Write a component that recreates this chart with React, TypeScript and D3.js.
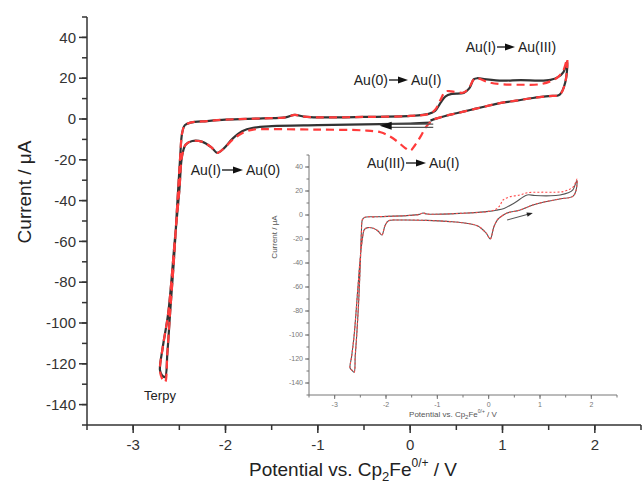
import * as React from 'react';
import * as d3 from 'd3';

// main panel: CV of Au-terpy complex, [potential V, current uA]
const mainBlack: [number, number][] = [
  [0.22, -1.8], [0.0, -2.2], [-0.5, -2.6], [-1.0, -3.0], [-1.5, -3.5], [-1.7, -4.3],
  [-1.82, -6.0], [-1.92, -9.5], [-2.02, -14.5], [-2.09, -16.6], [-2.15, -14.0],
  [-2.25, -11.2], [-2.36, -10.8], [-2.43, -12.5], [-2.47, -18], [-2.5, -35],
  [-2.55, -60], [-2.62, -95], [-2.68, -112], [-2.71, -123], [-2.69, -125.5],
  [-2.655, -126.5], [-2.63, -115], [-2.6, -95], [-2.56, -70], [-2.52, -40],
  [-2.49, -18], [-2.47, -7], [-2.44, -3], [-2.38, -1.8], [-2.2, -1.0], [-2.0, -0.3],
  [-1.6, 0.3], [-1.35, 0.8], [-1.25, 2.0], [-1.15, 1.2], [-1.0, 0.8], [-0.5, 1.0],
  [0.0, 1.5], [0.2, 2.5], [0.27, 4.0], [0.33, 8.0], [0.38, 11.0], [0.45, 12.3],
  [0.58, 12.8], [0.64, 15.0], [0.69, 19.5], [0.73, 20.0], [0.8, 19.6], [1.0, 18.8],
  [1.2, 19.1], [1.4, 18.8], [1.52, 19.2], [1.6, 20.5], [1.66, 23], [1.7, 28],
  [1.68, 18], [1.62, 12], [1.5, 11.2], [1.33, 10.3], [1.15, 9.0], [0.97, 7.8],
  [0.8, 6.0], [0.65, 4.4], [0.5, 2.8], [0.38, 1.5], [0.28, 0.2], [0.22, -0.8],
];

const mainRed: [number, number][] = [
  [0.22, -1.5], [0.17, -4], [0.12, -8], [0.05, -13], [0.0, -15.5], [-0.06, -14],
  [-0.14, -11], [-0.22, -8.5], [-0.32, -6.5], [-0.5, -5.6], [-1.0, -5.2], [-1.5, -5.0],
  [-1.7, -5.2], [-1.82, -7.0], [-1.92, -10], [-2.02, -14.5], [-2.09, -16.6],
  [-2.15, -14.0], [-2.25, -11.2], [-2.36, -10.8], [-2.43, -12.5], [-2.47, -18],
  [-2.5, -35], [-2.55, -60], [-2.62, -95], [-2.68, -112], [-2.71, -123],
  [-2.69, -127], [-2.655, -129], [-2.63, -115], [-2.6, -95], [-2.56, -70],
  [-2.52, -40], [-2.49, -18], [-2.47, -7], [-2.44, -3], [-2.38, -1.8], [-2.2, -1.0],
  [-2.0, -0.3], [-1.6, 0.3], [-1.35, 0.8], [-1.25, 2.0], [-1.15, 1.2], [-1.0, 0.8],
  [-0.5, 1.0], [0.0, 1.5], [0.2, 2.5], [0.27, 4.5], [0.33, 9.5], [0.38, 13.5],
  [0.45, 13.5], [0.58, 13.0], [0.64, 15.5], [0.69, 19.5], [0.73, 20.0], [0.85, 18.0],
  [1.0, 17.0], [1.2, 16.8], [1.4, 17.0], [1.52, 18.5], [1.6, 20.5], [1.66, 24],
  [1.7, 29.5], [1.68, 18], [1.62, 12], [1.5, 11.2], [1.33, 10.3], [1.15, 9.0],
  [0.97, 7.8], [0.8, 6.0], [0.65, 4.4], [0.5, 2.8], [0.38, 1.5], [0.28, 0.2], [0.22, -1.0],
];

// inset panel
const insetBlack: [number, number][] = [
  [0.25, -1], [0.17, -4], [0.1, -10], [0.03, -20], [-0.05, -15], [-0.22, -9],
  [-0.5, -6.5], [-0.75, -5.5], [-1.2, -4.5], [-1.73, -4.2], [-1.95, -4.8],
  [-2.02, -9], [-2.08, -16.7], [-2.15, -13.5], [-2.25, -11], [-2.35, -10.5],
  [-2.42, -12], [-2.46, -20], [-2.5, -35], [-2.55, -62], [-2.62, -100], [-2.67, -118],
  [-2.7, -127.5], [-2.66, -129.5], [-2.62, -131], [-2.6, -118], [-2.57, -100],
  [-2.53, -70], [-2.5, -40], [-2.48, -15], [-2.46, -4], [-2.42, -2], [-2.2, -1.5],
  [-1.6, -0.5], [-1.35, 0.5], [-1.28, 1.7], [-1.2, 0.8], [-0.5, 1.5], [0.0, 3],
  [0.15, 4], [0.3, 5.5], [0.5, 10], [0.75, 16.7], [0.9, 16.2], [1.2, 16], [1.39, 16.7],
  [1.55, 18.5], [1.64, 21], [1.72, 29], [1.7, 20], [1.64, 15.5], [1.4, 13.5],
  [1.1, 11], [0.86, 8.3], [0.6, 4], [0.36, 1.7], [0.25, -1],
];

const insetRed: [number, number][] = [
  [0.25, -1], [0.17, -4], [0.1, -10], [0.03, -20], [-0.05, -15], [-0.22, -9],
  [-0.5, -6.5], [-0.75, -5.5], [-1.2, -4.5], [-1.73, -4.2], [-1.95, -4.8],
  [-2.02, -9], [-2.08, -16.7], [-2.15, -13.5], [-2.25, -11], [-2.35, -10.5],
  [-2.42, -12], [-2.46, -20], [-2.5, -35], [-2.55, -62], [-2.62, -100], [-2.67, -118],
  [-2.7, -127.5], [-2.66, -129.5], [-2.62, -131], [-2.6, -118], [-2.57, -100],
  [-2.53, -70], [-2.5, -40], [-2.48, -15], [-2.46, -4], [-2.42, -2], [-2.2, -1.5],
  [-1.6, -0.5], [-1.35, 0.5], [-1.28, 1.7], [-1.2, 0.8], [-0.5, 1.5], [0.0, 3],
  [0.15, 5], [0.22, 8], [0.28, 12.5], [0.4, 15], [0.61, 16.7], [0.75, 18.5],
  [1.0, 19], [1.3, 19], [1.45, 19.5], [1.58, 21.5], [1.66, 24], [1.72, 30],
  [1.7, 20], [1.64, 15.5], [1.4, 13.5], [1.1, 11], [0.86, 8.3], [0.6, 4],
  [0.36, 1.7], [0.25, -1],
];

const yTickLabels = [40, 20, 0, -20, -40, -60, -80, -100, -120, -140];
const xTickLabels = [-3, -2, -1, 0, 1, 2];
const yMinor = d3.range(-150, 51, 10);
const xMinor = d3.range(-3.5, 2.51, 0.5);

// scan direction arrows, [from, to] in data units
const mainArrow: [number, number][] = [[0.25, -3.3], [-0.33, -3.3]];
const insetArrow: [number, number][] = [[0.36, -4.2], [0.86, 1.7]];

const font = '"Liberation Sans", Arial, sans-serif';

const Axes = ({ x, y, tick, minor, fs, color, sw, labelGapX, labelGapY }) => {
  const [x0, x1] = x.range();
  const [y0, y1] = y.range();
  return (
    <g stroke={color} fill={color} fontFamily={font}>
      <line x1={x0} x2={x0} y1={y0} y2={y1} strokeWidth={sw} />
      <line x1={x0} x2={x1} y1={y0} y2={y0} strokeWidth={sw} />
      {yMinor.map((v) => (
        <line key={'ym' + v} x1={x0 - minor} x2={x0} y1={y(v)} y2={y(v)} strokeWidth={sw} />
      ))}
      {xMinor.map((v) => (
        <line key={'xm' + v} x1={x(v)} x2={x(v)} y1={y0} y2={y0 + minor} strokeWidth={sw} />
      ))}
      {yTickLabels.map((v) => (
        <g key={'y' + v}>
          <line x1={x0 - tick} x2={x0} y1={y(v)} y2={y(v)} strokeWidth={sw} />
          <text x={x0 - labelGapY} y={y(v)} dy="0.35em" textAnchor="end" fontSize={fs} stroke="none">
            {v}
          </text>
        </g>
      ))}
      {xTickLabels.map((v) => (
        <g key={'x' + v}>
          <line x1={x(v)} x2={x(v)} y1={y0} y2={y0 + tick} strokeWidth={sw} />
          <text x={x(v)} y={y0 + labelGapX} textAnchor="middle" fontSize={fs} stroke="none">
            {v}
          </text>
        </g>
      ))}
    </g>
  );
};

const Transition = ({ y, a, b, left, right }) => (
  <g fontFamily={font} fontSize={14} fill="#222">
    <text x={a - 1} y={y} textAnchor="end">{left}</text>
    <line x1={a} x2={b - 7} y1={y - 5} y2={y - 5} stroke="#222" strokeWidth={1.4} />
    <polygon points={`${b - 10},${y - 8.5} ${b},${y - 5} ${b - 10},${y - 1.5}`} fill="#111" />
    <text x={b + 3} y={y} textAnchor="start">{right}</text>
  </g>
);

export default function App() {
  const mx = d3.scaleLinear().domain([-3.5, 2.5]).range([87, 641]);
  const my = d3.scaleLinear().domain([-150, 50]).range([425, 17]);
  const ix = d3.scaleLinear().domain([-3.5, 2.5]).range([309, 617]);
  const iy = d3.scaleLinear().domain([-150, 50]).range([395, 155]);

  const mLine = d3.line<[number, number]>().x((d) => mx(d[0])).y((d) => my(d[1])).curve(d3.curveCatmullRom.alpha(0.5));
  const iLine = d3.line<[number, number]>().x((d) => ix(d[0])).y((d) => iy(d[1])).curve(d3.curveCatmullRom.alpha(0.5));

  const ma0 = [mx(mainArrow[0][0]), my(mainArrow[0][1])];
  const ma1 = [mx(mainArrow[1][0]), my(mainArrow[1][1])];
  const ia0 = [ix(insetArrow[0][0]), iy(insetArrow[0][1])];
  const ia1 = [ix(insetArrow[1][0]), iy(insetArrow[1][1])];
  const iang = (Math.atan2(ia1[1] - ia0[1], ia1[0] - ia0[0]) * 180) / Math.PI;

  return (
    <svg width={644} height={486} style={{ position: 'absolute', left: 0, top: 0, background: '#fff' }}>
      <rect width={644} height={486} fill="#fff" />
      <Axes x={mx} y={my} tick={8} minor={5} fs={15} color="#333" sw={1.5} labelGapX={25} labelGapY={11} />
      <text transform="translate(31,192) rotate(-90)" textAnchor="middle" fontFamily={font} fontSize={19} fill="#222">
        Current / μA
      </text>
      <text x={353} y={476} textAnchor="middle" fontFamily={font} fontSize={19} fill="#222">
        Potential vs. Cp<tspan fontSize={13} dy={5}>2</tspan>
        <tspan dy={-5}>Fe</tspan>
        <tspan fontSize={12} dy={-9}>0/+</tspan>
        <tspan dy={9}> / V</tspan>
      </text>

      <path d={mLine(mainBlack)} fill="none" stroke="#333" strokeWidth={2.2} />
      <path d={mLine(mainRed)} fill="none" stroke="#ff3b3b" strokeWidth={2.2} strokeDasharray="8 5" />

      <g>
        <line x1={ma0[0]} x2={ma1[0] + 10} y1={ma0[1] - 1.6} y2={ma1[1] - 1.6} stroke="#555" strokeWidth={1.2} />
        <line x1={ma0[0]} x2={ma1[0] + 10} y1={ma0[1] + 1.6} y2={ma1[1] + 1.6} stroke="#555" strokeWidth={1.2} />
        <polygon points={`${ma1[0]},${ma1[1]} ${ma1[0] + 12},${ma1[1] - 4} ${ma1[0] + 12},${ma1[1] + 4}`} fill="#111" />
      </g>

      <Transition y={52} a={497} b={515} left="Au(I)" right="Au(III)" />
      <Transition y={85} a={389} b={408} left="Au(0)" right="Au(I)" />
      <Transition y={175} a={222} b={243} left="Au(I)" right="Au(0)" />
      <Transition y={168} a={406} b={426} left="Au(III)" right="Au(I)" />
      <text x={160} y={400} textAnchor="middle" fontFamily={font} fontSize={13} fill="#222">Terpy</text>

      {/* inset */}
      <Axes x={ix} y={iy} tick={4} minor={2.5} fs={7} color="#777" sw={1} labelGapX={12} labelGapY={6} />
      <text transform="translate(277,237) rotate(-90)" textAnchor="middle" fontFamily={font} fontSize={8} fill="#555">
        Current / μA
      </text>
      <text x={453} y={417} textAnchor="middle" fontFamily={font} fontSize={8} fill="#555">
        Potential vs. Cp<tspan fontSize={6} dy={2}>2</tspan>
        <tspan dy={-2}>Fe</tspan>
        <tspan fontSize={5} dy={-4}>0/+</tspan>
        <tspan dy={4}> / V</tspan>
      </text>
      <path d={iLine(insetBlack)} fill="none" stroke="#555" strokeWidth={1.1} />
      <path d={iLine(insetRed)} fill="none" stroke="#ff4a4a" strokeWidth={1.1} strokeDasharray="2 2" />
      <g transform={`translate(${ia1[0]},${ia1[1]}) rotate(${iang})`}>
        <line x1={-Math.hypot(ia1[0] - ia0[0], ia1[1] - ia0[1])} x2={-4} y1={0} y2={0} stroke="#555" strokeWidth={1} />
        <polygon points="0,0 -6,-2.2 -6,2.2" fill="#222" />
      </g>
    </svg>
  );
}
